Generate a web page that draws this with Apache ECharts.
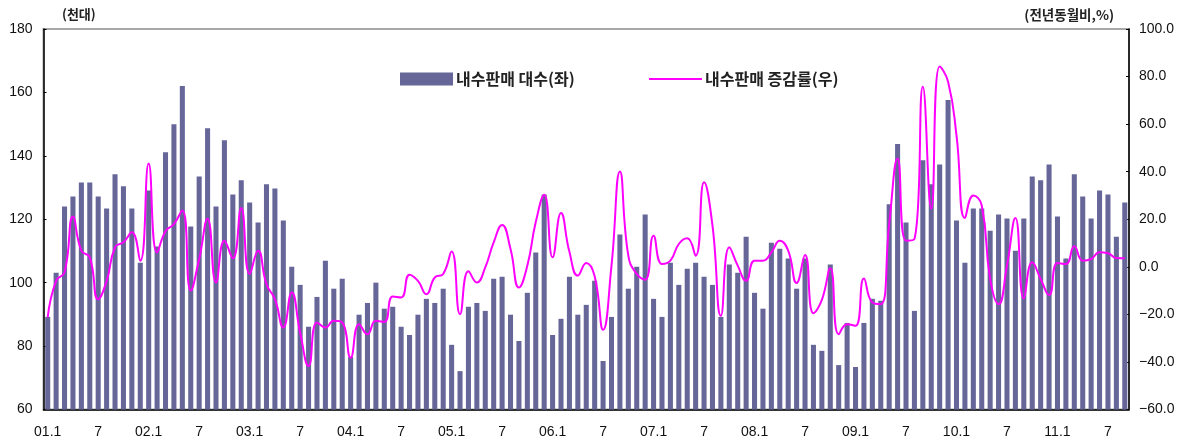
<!DOCTYPE html>
<html><head><meta charset="utf-8">
<script src="https://cdn.jsdelivr.net/npm/echarts@6/dist/echarts.min.js"></script>
<style>html,body{margin:0;padding:0;background:#fff}#c{width:1190px;height:443px}</style>
</head><body><div id="c"></div>
<script>
// months 2001.1 - 2011.9
const startYear = 2001, monthCount = 129;
const categories = [];
for (let i = 0; i < monthCount; i++) {
  const y = startYear + Math.floor(i / 12), m = i % 12 + 1;
  categories.push(String(y % 100).padStart(2, '0') + '.' + m);
}
// 내수판매 대수 (천대)
const salesVolume = [
  89.2,103.1,124.0,127.2,131.6,131.6,127.2,123.4,134.2,130.4,123.4,106.3,
  129.1,111.4,141.1,150.0,162.0,117.7,133.5,148.7,124.0,144.9,127.8,132.3,
  125.3,119.0,131.0,129.7,119.6,105.0,99.3,86.1,95.5,106.9,98.1,101.2,
  76.6,89.9,93.6,100.0,91.8,92.4,86.1,83.5,89.9,94.9,93.6,98.1,
  80.4,72.1,92.4,93.6,91.1,101.2,101.9,89.9,81.6,96.8,109.5,127.8,
  83.5,88.6,101.9,89.9,93.0,100.6,75.3,89.2,115.2,98.1,105.0,121.5,
  94.9,89.2,106.3,99.3,104.4,106.3,101.9,99.3,89.2,105.7,103.1,114.5,
  96.8,91.8,112.6,110.7,107.6,98.1,107.6,80.4,78.5,105.7,74.0,87.3,
  73.4,87.3,94.9,94.3,124.7,143.7,119.0,91.1,138.6,131.0,137.3,157.6,
  119.6,106.3,123.4,123.4,116.4,121.5,120.2,110.1,120.2,133.5,132.3,137.3,
  120.9,107.6,134.2,127.2,120.2,129.1,127.8,114.5,125.3
];
// 내수판매 증감률 (전년동월비, %)
const salesGrowth = [
  -21.3,-5.9,-2.3,21.0,6.8,4.0,-13.6,-6.0,8.2,10.3,14.5,2.5,
  43.4,6.0,15.0,18.0,23.7,-10.0,3.3,20.2,-6.6,11.0,3.6,24.7,
  -3.0,6.8,-7.3,-13.6,-25.5,-10.8,-27.7,-41.7,-23.4,-25.5,-22.7,-23.4,
  -38.2,-24.1,-28.4,-22.7,-23.2,-12.5,-12.9,-3.3,-5.9,-11.5,-4.5,-3.0,
  6.4,-19.9,-1.9,-6.6,-0.2,10.3,17.6,7.5,-8.7,0.5,18.8,30.3,
  4.0,22.6,6.3,-3.7,1.6,-4.0,-26.5,0.5,40.1,4.7,-3.0,-5.4,
  13.1,1.2,2.6,9.6,12.0,4.7,35.6,17.4,-20.6,8.2,0.5,-5.9,
  2.6,2.6,6.1,11.0,6.8,-6.8,5.0,-19.5,-13.9,-0.6,-28.4,-24.1,
  -24.8,-4.9,-15.0,-15.7,18.0,45.5,11.0,11.7,75.7,24.4,84.2,77.8,
  55.3,20.5,30.0,25.8,-5.1,-15.7,0.5,20.5,-13.3,1.9,-5.1,-11.9,
  1.6,1.2,8.6,2.6,3.3,6.1,5.7,3.7,3.6
];
const leftTicks = {min: 60, max: 180, interval: 20};
const rightTicks = {min: -60, max: 100, interval: 20};

const chart = echarts.init(document.getElementById('c'), null, {renderer: 'canvas'});
const txt = {color: '#111', fontFamily: '"Liberation Sans", Arial, sans-serif', fontSize: 14};
const kr = '"Noto Sans CJK KR", sans-serif';
const legendText = {fontFamily: kr, fontSize: 16, fontWeight: 'bold', color: '#222'};
chart.setOption({
  animation: false,
  backgroundColor: '#fff',
  grid: {left: 43.5, right: 61, top: 29, bottom: 33.5, show: true, borderColor: '#a8a8a8', borderWidth: 2, backgroundColor: 'transparent'},
  graphic: [
    {type: 'text', left: 62, top: 8, style: {text: '(천대)', font: 'bold 13px ' + kr, fill: '#222'}},
    {type: 'text', right: 76, top: 8, style: {text: '(전년동월비,%)', font: 'bold 13.5px ' + kr, fill: '#222'}}
  ],
  legend: [
    {data: [{name: '내수판매 대수(좌)', icon: 'rect'}], left: 400, top: 71, padding: 0, itemWidth: 53, itemHeight: 13, itemGap: 0,
     textStyle: Object.assign({padding: [0,0,0,-2]}, legendText)},
    {data: [{name: '내수판매 증감률(우)', icon: 'rect'}], left: 649, top: 71, padding: 0, itemWidth: 53, itemHeight: 2,
     textStyle: Object.assign({padding: [0,0,0,-2]}, legendText)}
  ],
  xAxis: {
    type: 'category', data: categories, boundaryGap: true,
    axisLine: {onZero: false, lineStyle: {color: '#000', width: 1.5}},
    axisTick: {inside: true, length: 3, interval: 0, lineStyle: {color: '#333'}},
    axisLabel: Object.assign({}, txt, {margin: 16, interval: 0,
      formatter: function (v) { const m = v.split('.')[1]; return m === '1' ? v : (m === '7' ? '7' : ''); }}),
    splitLine: {show: false}
  },
  yAxis: [
    {type: 'value', min: leftTicks.min, max: leftTicks.max, interval: leftTicks.interval, position: 'left',
     axisLine: {show: true, onZero: false, lineStyle: {color: '#000', width: 1.5}},
     axisTick: {show: true, inside: true, length: 3, lineStyle: {color: '#000'}},
     axisLabel: Object.assign({}, txt, {margin: 11}),
     splitLine: {show: false}},
    {type: 'value', min: rightTicks.min, max: rightTicks.max, interval: rightTicks.interval, position: 'right',
     axisLine: {show: true, onZero: false, lineStyle: {color: '#000', width: 1.5}},
     axisTick: {show: true, inside: true, length: 3, lineStyle: {color: '#000'}},
     axisLabel: Object.assign({}, txt, {margin: 10, formatter: function (v) { return v.toFixed(1).replace('-', '\u2212'); }}),
     splitLine: {show: false}}
  ],
  series: [
    {name: '내수판매 대수(좌)', type: 'bar', yAxisIndex: 0, data: salesVolume, barWidth: '60%',
     itemStyle: {color: '#666699'}},
    {name: '내수판매 증감률(우)', type: 'line', yAxisIndex: 1, data: salesGrowth, smooth: 0.5,
     symbol: 'none', lineStyle: {color: '#ff00ff', width: 2}, itemStyle: {color: '#ff00ff'}, z: 5}
  ]
});
</script></body></html>
